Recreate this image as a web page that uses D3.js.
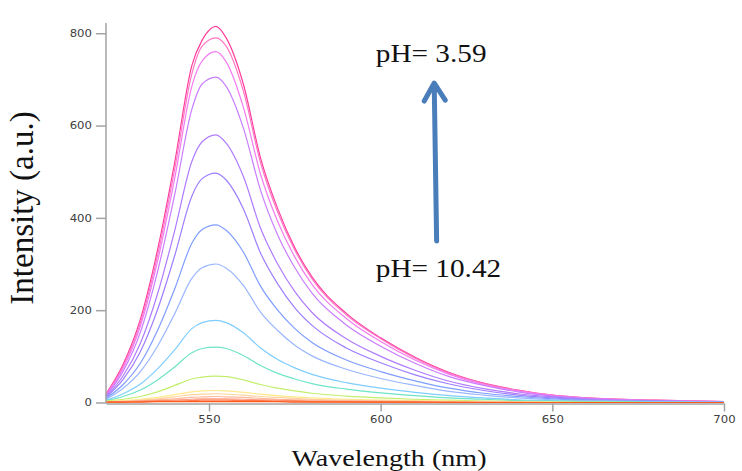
<!DOCTYPE html>
<html>
<head>
<meta charset="utf-8">
<script src="https://cdn.jsdelivr.net/npm/d3@7"></script>
<style>
	body { margin: 0; background: #fff; }
	svg { display: block; }
	.axis path, .axis line { stroke: #a3a3a3; stroke-width: 1.5; }
	.axis text { fill: #404040; font-family: "DejaVu Sans", sans-serif; font-size: 10px; }
	.title { font-family: "Liberation Serif", "Times New Roman", serif; fill: #111; }
</style>
</head>
<body>
<div id="chart"></div>
<script>
/* global d3 */

// emission wavelengths (nm)
var wavelengths = [520, 525, 530, 535, 540, 545, 548, 552, 555, 560, 565, 570, 575, 580, 590, 600, 610, 620, 630, 640, 650, 660, 680, 700];

// intensity spectra, from pH 3.59 (top) down to pH 10.42 (bottom)
var spec01 = [19, 83, 180, 330, 520, 730, 785, 815, 790, 690, 530, 420, 335, 272, 193, 140, 98, 65, 42, 27, 16, 10, 5, 2];
var spec02 = [17, 78, 172, 318, 505, 712, 772, 790, 772, 675, 520, 412, 330, 268, 190, 138, 96, 63, 41, 26, 16, 10, 5, 2];
var spec03 = [16, 74, 165, 305, 485, 685, 740, 760, 738, 640, 495, 392, 315, 256, 182, 132, 92, 61, 39, 25, 15, 9, 4, 2];
var spec04 = [15, 68, 152, 283, 450, 635, 690, 705, 685, 595, 460, 363, 292, 237, 168, 122, 85, 56, 37, 23, 14, 9, 4, 2];
var spec05 = [13, 58, 128, 235, 372, 522, 565, 580, 562, 490, 378, 300, 240, 195, 138, 100, 70, 46, 30, 19, 12, 7, 3, 1];
var spec06 = [11, 50, 110, 201, 318, 447, 485, 497, 482, 420, 324, 257, 205, 167, 118, 86, 60, 40, 26, 16, 10, 6, 3, 1];
var spec07 = [9, 39, 85, 156, 246, 345, 375, 385, 373, 326, 252, 200, 160, 130, 92, 67, 47, 31, 20, 13, 8, 5, 2, 1];
var spec08 = [7, 31, 67, 122, 192, 269, 292, 300, 291, 254, 196, 156, 124, 101, 72, 52, 37, 24, 16, 10, 6, 4, 2, 1];
var spec09 = [5, 19, 40, 73, 114, 160, 173, 178, 173, 151, 118, 93, 75, 61, 43, 31, 22, 15, 10, 6, 4, 2, 1, 0];
var spec10 = [4, 13, 27, 49, 77, 108, 117, 120, 117, 102, 80, 63, 51, 41, 29, 21, 15, 10, 7, 4, 3, 2, 1, 0];
var spec11 = [3, 7, 13, 23, 37, 51, 55, 57, 56, 49, 39, 31, 25, 20, 14, 10, 7, 5, 3, 2, 1, 1, 0, 0];
var spec12 = [2, 4, 7, 11, 17, 23, 25, 26, 25, 22, 18, 15, 12, 10, 7, 5, 4, 3, 2, 1, 1, 0, 0, 0];
var spec13 = [1, 3, 5, 8, 12, 17, 18, 19, 18, 16, 13, 11, 9, 7, 5, 4, 3, 2, 1, 1, 0, 0, 0, 0];
var spec14 = [1, 2, 4, 6, 8, 11, 12, 13, 12, 11, 9, 7, 6, 5, 4, 3, 2, 1, 1, 1, 0, 0, 0, 0];
var spec15 = [1, 2, 3, 4, 5, 7, 8, 8, 8, 7, 6, 5, 4, 3, 2, 2, 1, 1, 1, 0, 0, 0, 0, 0];
var spec16 = [1, 1, 2, 3, 3, 4, 5, 5, 5, 4, 4, 3, 3, 2, 2, 1, 1, 1, 0, 0, 0, 0, 0, 0];
var spec17 = [1, 1, 1, 2, 2, 2, 2, 2, 2, 2, 2, 2, 1, 1, 1, 1, 1, 0, 0, 0, 0, 0, 0, 0];

var spectra = [spec01, spec02, spec03, spec04, spec05, spec06, spec07, spec08, spec09,
	spec10, spec11, spec12, spec13, spec14, spec15, spec16, spec17];

var lineColors = ['#ff3d9a', '#ff78c6', '#f27cf0', '#c97dff', '#b07bff', '#9e7eff', '#7f9dff', '#9ab6ff', '#7fcdff',
	'#6fe3c6', '#c2ee6c', '#ffe98c', '#ffd49c', '#ffb99c', '#ff9f88', '#ff7a48', '#ff5a1c'];

var xTicks = [550, 600, 650, 700];
var yTicks = [0, 200, 400, 600, 800];

// annotations: [wavelength, intensity]
var labelTop = {text: 'pH= 3.59', at: [598.6, 737]};
var labelBottom = {text: 'pH= 10.42', at: [598.6, 271]};
var arrowFrom = [616.3, 350];
var arrowTo = [615.6, 692];

(function () {
	'use strict';

	var width = 742,
		height = 471,
		stretch = 1.17;

	var x = d3.scaleLinear().domain([520, 700]).range([106, 724]);
	var y = d3.scaleLinear().domain([0, 820]).range([402.5, 24]);

	var svg = d3.select('#chart').append('svg')
		.attr('width', width)
		.attr('height', height);

	// curves
	var line = d3.line()
		.curve(d3.curveMonotoneX)
		.x(function (d) { return x(d[0]); })
		.y(function (d) { return y(d[1]); });

	svg.append('g')
		.attr('class', 'spectra')
		.selectAll('path')
		.data(spectra)
		.enter().append('path')
			.attr('d', function (s) { return line(s.map(function (v, i) { return [wavelengths[i], v]; })); })
			.attr('fill', 'none')
			.attr('stroke', function (s, i) { return lineColors[i]; })
			.attr('stroke-width', 1.2)
			.attr('stroke-linejoin', 'round');

	// axes
	var xAxis = svg.append('g')
		.attr('class', 'axis axis--x')
		.attr('transform', 'translate(0,' + (y(0) + 1) + ')')
		.call(d3.axisBottom(x).tickValues(xTicks).tickSize(8).tickSizeOuter(0).tickPadding(4));
	xAxis.selectAll('text')
		.attr('transform', 'scale(' + stretch + ',1)');

	var yAxis = svg.append('g')
		.attr('class', 'axis axis--y')
		.attr('transform', 'translate(' + x(520) + ',0)')
		.call(d3.axisLeft(y).tickValues(yTicks).tickSize(10).tickSizeOuter(0).tickPadding(4));
	yAxis.select('.domain').attr('d', 'M0,' + (y(0) + 1) + 'V' + y(822));
	yAxis.selectAll('text')
		.attr('transform', 'translate(-14,0) scale(' + stretch + ',1)')
		.attr('x', 0);

	// axis titles
	svg.append('text')
		.attr('class', 'title')
		.attr('transform', 'translate(33,208) scale(1.05,1) rotate(-90)')
		.attr('text-anchor', 'middle')
		.style('font-size', '33px')
		.text('Intensity (a.u.)');

	svg.append('text')
		.attr('class', 'title')
		.attr('transform', 'translate(389,466) scale(' + stretch + ',1)')
		.attr('text-anchor', 'middle')
		.style('font-size', '24px')
		.text('Wavelength (nm)');

	// pH labels
	[labelTop, labelBottom].forEach(function (lab) {
		svg.append('text')
			.attr('class', 'title')
			.attr('transform', 'translate(' + x(lab.at[0]) + ',' + y(lab.at[1]) + ') scale(' + stretch + ',1)')
			.style('font-size', '25px')
			.text(lab.text);
	});

	// arrow
	var ax0 = x(arrowFrom[0]), ay0 = y(arrowFrom[1]),
		ax1 = x(arrowTo[0]), ay1 = y(arrowTo[1]);
	svg.append('path')
		.attr('d', 'M' + ax0 + ',' + ay0 + 'L' + ax1 + ',' + (ay1 + 2)
			+ 'M' + (ax1 - 10) + ',' + (ay1 + 18) + 'L' + ax1 + ',' + ay1 + 'L' + (ax1 + 11) + ',' + (ay1 + 17))
		.attr('fill', 'none')
		.attr('stroke', '#4a7ebb')
		.attr('stroke-width', 5)
		.attr('stroke-linecap', 'round')
		.attr('stroke-linejoin', 'round');
})();
</script>
</body>
</html>
